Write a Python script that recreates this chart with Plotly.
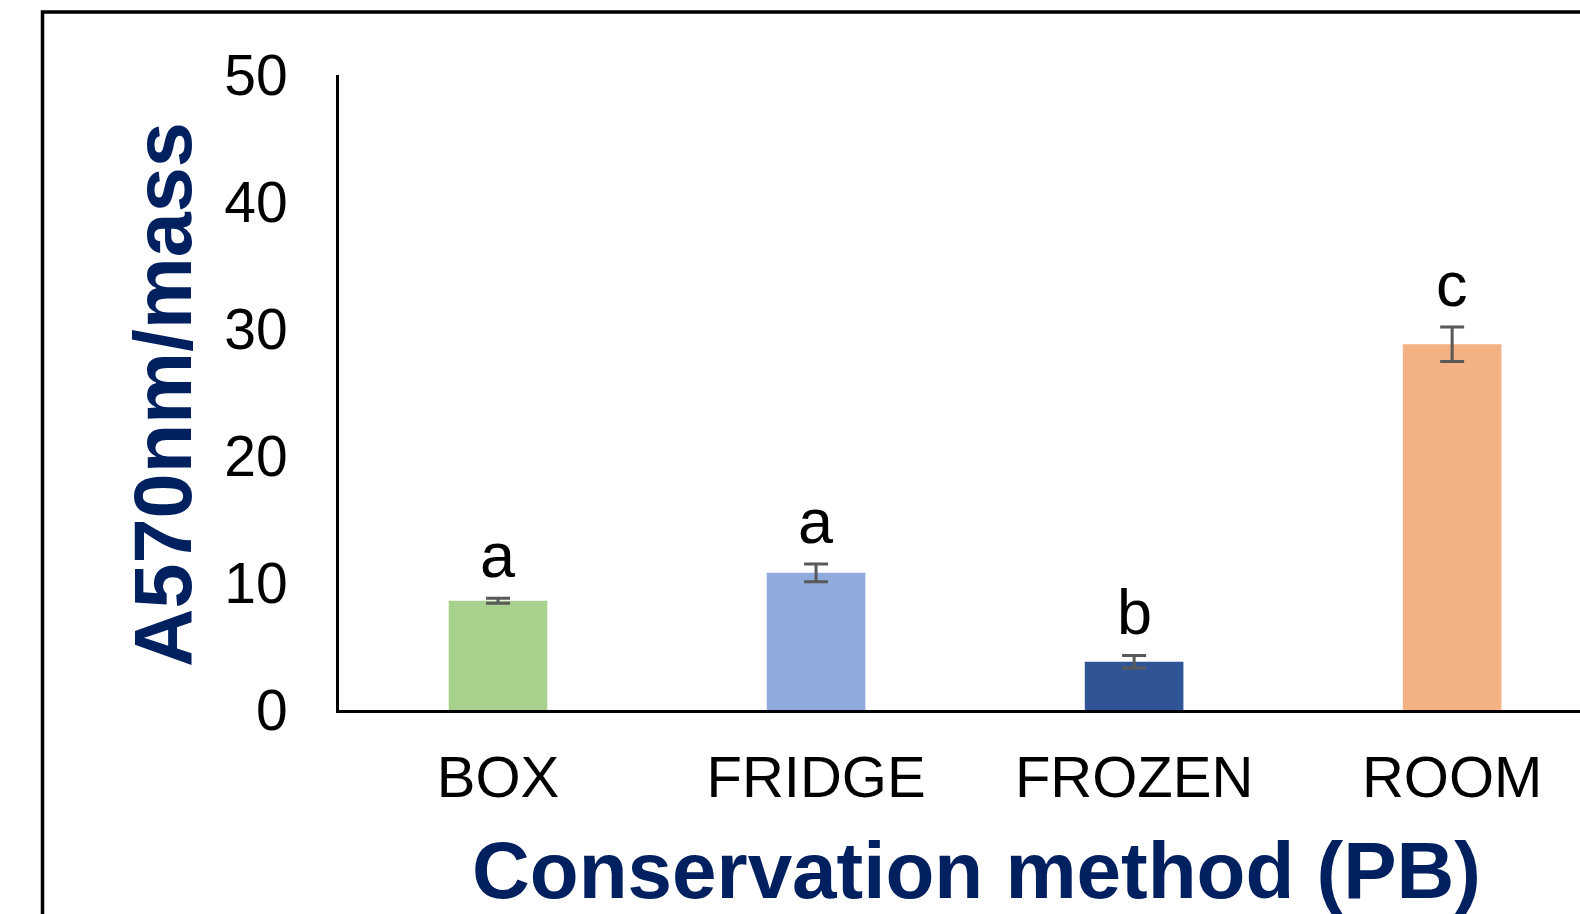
import plotly.graph_objects as go

# Absorbance per mass for each conservation method (PB)
methods = ["BOX", "FRIDGE", "FROZEN", "ROOM"]
means = [8.6, 10.8, 3.8, 28.8]
errors = [0.2, 0.7, 0.5, 1.35]
groups = ["a", "a", "b", "c"]
bar_colors = ["#A9D18E", "#8FAADC", "#2F5597", "#F4B183"]
y_ticks = [0, 10, 20, 30, 40, 50]

FONT = "Liberation Sans, Arial, sans-serif"
NAVY = "#002060"

W, H = 1580, 914
L, R, T, B = 339, 0, 75, 204
pw, ph = W - L - R, H - T - B


def px_x(p):
    return (p - L) / pw


def px_y(p):
    return 1 - (p - T) / ph


fig = go.Figure()
fig.add_trace(go.Bar(
    x=methods,
    y=means,
    marker=dict(color=bar_colors, line=dict(width=0)),
    width=0.31,
    error_y=dict(type="data", array=errors, visible=True,
                 color="#595959", thickness=3, width=12),
    showlegend=False,
))

# significance letters above each error bar
for m, v, e, g in zip(methods, means, errors, groups):
    fig.add_annotation(x=m, y=v + e, text=g, showarrow=False,
                       yanchor="bottom", yshift=6,
                       font=dict(family=FONT, size=63, color="black"))

# axis titles
fig.add_annotation(xref="paper", yref="paper", x=px_x(976), y=px_y(870),
                   text="<b>Conservation method (PB)</b>", showarrow=False,
                   xanchor="center", yanchor="middle", borderpad=0,
                   font=dict(family=FONT, size=80, color=NAVY))
fig.add_annotation(xref="paper", yref="paper", x=px_x(163), y=px_y(394),
                   text="<b>A570nm/mass</b>", showarrow=False, textangle=-90,
                   xanchor="center", yanchor="middle",
                   font=dict(family=FONT, size=81, color=NAVY))

# outer frame around the figure
fig.add_shape(type="rect", xref="paper", yref="paper",
              x0=px_x(42.5), x1=px_x(1620), y0=px_y(950), y1=px_y(12),
              line=dict(color="black", width=3.5), fillcolor="rgba(0,0,0,0)",
              layer="above")

fig.update_layout(
    width=W, height=H,
    margin=dict(l=L, r=R, t=T, b=B, pad=0),
    paper_bgcolor="white",
    plot_bgcolor="white",
    font=dict(family=FONT, color="black"),
    xaxis=dict(
        range=[-0.5, 3.402],
        showline=True, linecolor="black", linewidth=3,
        showgrid=False, zeroline=False,
        ticks="", tickfont=dict(family=FONT, size=58, color="black"),
        ticklabelstandoff=14,
    ),
    yaxis=dict(
        range=[0, 50],
        tickvals=y_ticks,
        showline=True, linecolor="black", linewidth=3,
        showgrid=False, zeroline=False,
        ticks="", tickfont=dict(family=FONT, size=57, color="black"),
        ticklabelstandoff=37,
    ),
)

fig.write_html("out.html")
